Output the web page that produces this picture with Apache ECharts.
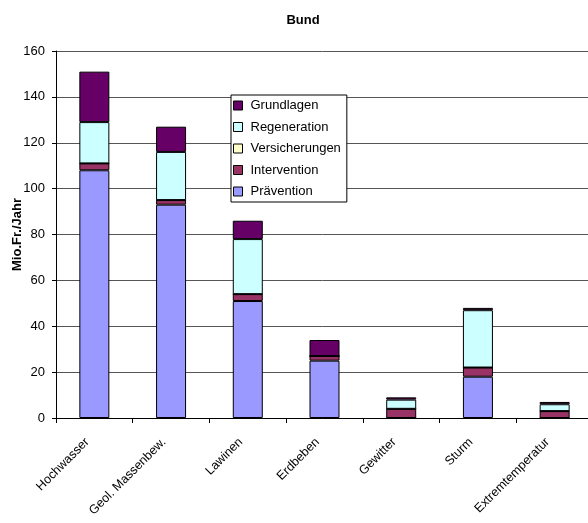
<!DOCTYPE html>
<html>
<head>
<meta charset="utf-8">
<script src="https://cdn.jsdelivr.net/npm/echarts@6/dist/echarts.min.js"></script>
<style>
  html, body { margin: 0; padding: 0; background: #fff; }
  #chart { width: 588px; height: 523px; }
</style>
</head>
<body>
<div id="chart"></div>
<script>
const categories = ['Hochwasser', 'Geol. Massenbew.', 'Lawinen', 'Erdbeben', 'Gewitter', 'Sturm', 'Extremtemperatur'];
const praevention = [108, 93, 51, 25, 0, 18, 0];
const intervention = [3, 2, 3, 2, 4, 4, 3];
const versicherungen = [0, 0, 0, 0, 0, 0, 0];
const regeneration = [18, 21, 24, 0, 4, 25, 3];
const grundlagen = [22, 11, 8, 7, 1, 1, 1];
const legendOrder = ['Grundlagen', 'Regeneration', 'Versicherungen', 'Intervention', 'Prävention'];

const font = 'Liberation Sans, Arial, sans-serif';
const chart = echarts.init(document.getElementById('chart'));

chart.setOption({
  animation: false,
  textStyle: {fontFamily: font},
  title: {
    text: 'Bund',
    left: 298,
    top: 9,
    textAlign: 'center',
    textStyle: {fontSize: 13, fontWeight: 'bold', color: '#000', fontFamily: font}
  },
  legend: {
    data: legendOrder,
    orient: 'vertical',
    left: 231,
    top: 95,
    itemWidth: 9,
    itemHeight: 9,
    itemGap: 8.5,
    padding: [4, 6, 4, 2],
    backgroundColor: '#fff',
    borderColor: '#000',
    borderWidth: 1,
    icon: 'rect',
    textStyle: {fontSize: 13, color: '#000', fontFamily: font, padding: [0, 0, 0, 3]},
    itemStyle: {borderColor: '#000', borderWidth: 1}
  },
  grid: {left: 56, top: 51, width: 537, height: 367, containLabel: false, outerBoundsMode: 'none'},
  xAxis: {
    type: 'category',
    data: categories,
    axisLine: {lineStyle: {color: '#000', width: 1}},
    axisTick: {show: true, length: 5, lineStyle: {color: '#000'}},
    axisLabel: {rotate: 45, fontSize: 12.5, color: '#000', margin: 15, interval: 0, fontFamily: font, padding: [0, 10, 0, 0]}
  },
  yAxis: {
    type: 'value',
    min: 0,
    max: 160,
    interval: 20,
    name: 'Mio.Fr./Jahr',
    nameLocation: 'middle',
    nameRotate: 90,
    nameGap: 32,
    nameMoveOverlap: false,
    nameTextStyle: {fontSize: 13, fontWeight: 'bold', color: '#000', fontFamily: font},
    axisLine: {show: true, lineStyle: {color: '#000'}},
    axisTick: {show: true, length: 4, lineStyle: {color: '#000'}},
    axisLabel: {fontSize: 13, color: '#000', margin: 11, fontFamily: font},
    splitLine: {lineStyle: {color: '#555', width: 1}}
  },
  series: [
    {name: 'Prävention', data: praevention, color: '#9999FF'},
    {name: 'Intervention', data: intervention, color: '#993366'},
    {name: 'Versicherungen', data: versicherungen, color: '#FFFFCC'},
    {name: 'Regeneration', data: regeneration, color: '#CCFFFF'},
    {name: 'Grundlagen', data: grundlagen, color: '#660066'}
  ].map(s => ({
    ...s,
    type: 'bar',
    stack: 'total',
    barWidth: 30,
    itemStyle: {color: s.color, borderColor: '#000', borderWidth: 1}
  }))
});
</script>
</body>
</html>
